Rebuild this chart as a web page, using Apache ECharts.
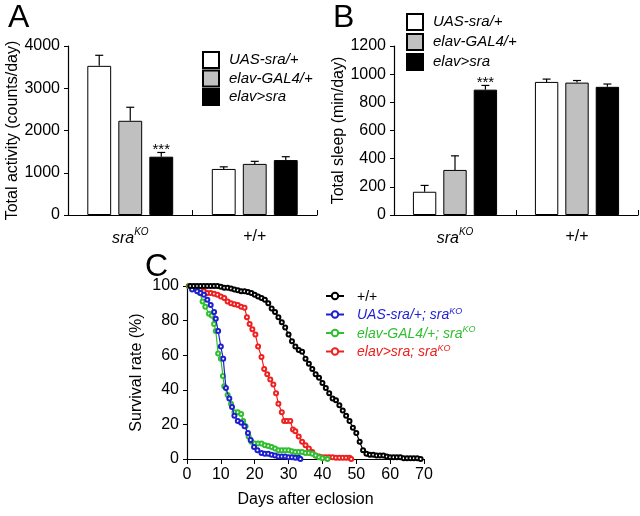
<!DOCTYPE html>
<html>
<head>
<meta charset="utf-8">
<script src="https://cdn.jsdelivr.net/npm/echarts@6/dist/echarts.min.js"></script>
<style>
  html, body { margin: 0; padding: 0; background: #fff; }
  #main { width: 640px; height: 516px; }
</style>
</head>
<body>
<div id="main"></div>
<script>
// 分组和基因型
var groups = ['sraKO', '+/+'];
var genotypes = ['UAS-sra/+', 'elav-GAL4/+', 'elav>sra'];
var barColors = ['#ffffff', '#c0c0c0', '#000000'];

// A: total activity (counts/day), one row per genotype, one value per group
var activityMean = [[3530, 1090], [2230, 1210], [1380, 1300]];
var activitySem = [[250, 50], [320, 60], [100, 80]];
// B: total sleep (min/day)
var sleepMean = [[165, 945], [320, 940], [890, 910]];
var sleepSem = [[45, 20], [100, 15], [30, 20]];
// *** marks, per genotype per group
var sigMarks = [['', ''], ['', ''], ['***', '']];

// C: survival curves, [day, percent]
var survNames = ['+/+', 'UAS-sra/+; sraKO', 'elav-GAL4/+; sraKO', 'elav>sra; sraKO'];
var survColors = ['#000000', '#1f1fd0', '#2fbf2f', '#ee2020'];
var survWT = [[1,100],[2,100],[3,100],[4,100],[5,100],[6,100],[7,100],[8,100],[9,100],[10,99.5],[11,99],[12,99],[13,98.5],[14,98],[15,97.5],[16,97],[17,97],[18,96.5],[19,96],[20,95],[21,94],[22,93],[23,92],[24,90],[25,87],[26,85],[27,82],[28,79],[29,76],[30,72],[31,68],[32,65],[33,63],[34,62],[35,58],[36,55],[37,52],[38,49],[39,47],[40,44],[41,41],[42,38],[43,35],[44,34],[45,31],[46,28],[47,25],[48,22],[49,18],[50,15],[51,10],[52,5],[53,3],[54,2.5],[55,2.5],[56,2],[57,2],[58,2],[59,1.5],[60,1],[61,1],[62,1],[63,1],[64,0.5],[65,0.5],[66,0.5],[67,0.5],[68,0.5],[69,0]];
var survUAS = [[1.5,98],[3,97],[4,96],[5,95],[6,92],[7,89],[8,85],[8.5,81],[9.2,74],[10,65],[10.7,58],[11.5,41],[12.5,35],[13.3,30],[14,25],[15,22],[16,21],[17,19],[18,15],[18.8,11],[19.8,7],[20.8,5],[22,3.5],[23,3],[24,3],[25,2.5],[26,2],[27,1.5],[28,1.5],[29,1.5],[30,1],[31,1],[32,0.7],[33,0.7],[33.5,0]];
var survGAL4 = [[0.7,100],[2,99],[3,98],[3.8,96],[4.6,91],[5.4,88],[6.5,84],[7.3,83],[8,78],[8.5,74],[9.2,61],[10,58],[10.6,48],[11,42],[12,37],[13,32],[14,27],[15,27],[16,26],[16.6,22],[17.3,19],[18.2,13],[19,10],[20,9],[21,9],[22,9],[23,8],[24,7.5],[25,7],[26,6],[27,5],[28,5],[29,5],[30,5],[31,4.5],[32,4],[33,4],[34,4],[35,3.5],[36,3.5],[37,3],[38,2],[39,1],[40,0.5],[41.5,0]];
var survRescue = [[0.5,100],[1.5,99],[3,98],[4,97.5],[5,97],[6,96],[7,96],[8,95.5],[9,95],[10,94],[11,93],[12,91],[13,90],[14,89.5],[15,89],[16,88],[17,87.5],[17.7,82],[18.5,78],[19.3,75],[20.2,72],[21,65],[22,59],[22.8,52],[23.7,49],[24.6,46],[25.5,43],[26.3,38],[27,32],[28,27],[28.7,22],[29.5,22],[30.5,22],[31.3,17],[32,16],[33,13],[34,10],[35,8],[36,6],[37,4],[38,2],[39,1.5],[40,1],[41,1],[42,1],[43,1],[44,0.7],[45,0.7],[46,0.7],[47,0.7],[48,0.7],[48.5,0]];
var survData = [survWT, survUAS, survGAL4, survRescue];

var FONT = 'Liberation Sans, Arial, sans-serif';

// 误差线 (only upward) + significance marks
function errRender(pos, marks) {
    return function (params, api) {
        var cat = api.value(0);
        var mean = api.value(1);
        var top = mean + api.value(2);
        var base = api.coord([cat, mean]);
        var tip = api.coord([cat, top]);
        var band = api.size([1, 0])[0];
        var bw = band * 0.69 / 3.6;
        var x = base[0] + (pos - 1) * bw * 1.3;
        var lineStyle = { stroke: '#000', lineWidth: 1.2 };
        var children = [
            { type: 'line', shape: { x1: x, y1: base[1], x2: x, y2: tip[1] }, style: lineStyle },
            { type: 'line', shape: { x1: x - 4, y1: tip[1], x2: x + 4, y2: tip[1] }, style: lineStyle }
        ];
        var m = marks[params.dataIndex];
        if (m) {
            children.push({
                type: 'text',
                style: { text: m, x: x, y: tip[1] + 5, align: 'center', verticalAlign: 'bottom',
                         font: '15px ' + FONT, fill: '#000' }
            });
        }
        return { type: 'group', children: children };
    };
}

function catLabel(v) {
    return v === 'sraKO' ? '{i|sra}{s|KO}' : '{n|+/+}';
}
var catRich = {
    i: { fontStyle: 'italic', fontSize: 16, fontFamily: FONT, color: '#000', lineHeight: 20, verticalAlign: 'bottom' },
    s: { fontStyle: 'italic', fontSize: 10, fontFamily: FONT, color: '#000', lineHeight: 20, verticalAlign: 'top' },
    n: { fontSize: 16, fontFamily: FONT, color: '#000', lineHeight: 20 }
};

var axisLineBlack = { show: true, lineStyle: { color: '#000', width: 1.2 } };
var tickText = { color: '#000', fontSize: 16, fontFamily: FONT, formatter: function (v) { return String(v); } };
var nameText = { color: '#000', fontSize: 16, fontFamily: FONT };

var xAxes = [];
var yAxes = [];
var grids = [
    { left: 68, right: 323, top: 46, bottom: 301 },
    { left: 394, right: 2, top: 46, bottom: 301 },
    { left: 187, right: 216, top: 286, bottom: 57 }
];
[0, 1].forEach(function (g) {
    xAxes.push({
        type: 'category', gridIndex: g, data: groups,
        axisLine: axisLineBlack,
        axisTick: { show: true, inside: true, length: 5, lineStyle: { color: '#000' } },
        axisLabel: { formatter: catLabel, rich: catRich, margin: 12 }
    });
});
xAxes.push({
    type: 'value', gridIndex: 2, min: 0, max: 70, interval: 10,
    name: 'Days after eclosion', nameLocation: 'middle', nameGap: 33,
    nameTextStyle: nameText,
    axisLine: axisLineBlack,
    axisTick: { show: true, length: 5, lineStyle: { color: '#000' } },
    axisLabel: tickText,
    splitLine: { show: false }
});
yAxes.push({
    type: 'value', gridIndex: 0, min: 0, max: 4000, interval: 1000,
    name: 'Total activity (counts/day)', nameLocation: 'middle', nameGap: 38,
    nameTextStyle: nameText,
    axisLine: axisLineBlack,
    axisTick: { show: true, length: 4, lineStyle: { color: '#000' } },
    axisLabel: tickText, splitLine: { show: false }
});
yAxes.push({
    type: 'value', gridIndex: 1, min: 0, max: 1200, interval: 200,
    name: 'Total sleep (min/day)', nameLocation: 'middle', nameGap: 36,
    nameTextStyle: nameText,
    axisLine: axisLineBlack,
    axisTick: { show: true, length: 4, lineStyle: { color: '#000' } },
    axisLabel: tickText, splitLine: { show: false }
});
yAxes.push({
    type: 'value', gridIndex: 2, min: 0, max: 100, interval: 20,
    name: 'Survival rate (%)', nameLocation: 'middle', nameGap: 42,
    nameTextStyle: nameText,
    axisLine: axisLineBlack,
    axisTick: { show: true, length: 4, lineStyle: { color: '#000' } },
    axisLabel: tickText, splitLine: { show: false }
});

var series = [];
// 柱子和误差线
[[activityMean, activitySem, 0], [sleepMean, sleepSem, 1]].forEach(function (set) {
    var means = set[0], sems = set[1], g = set[2];
    genotypes.forEach(function (name, k) {
        series.push({
            name: name, type: 'bar', xAxisIndex: g, yAxisIndex: g,
            barGap: '30%', barCategoryGap: '31%',
            itemStyle: { color: barColors[k], borderColor: '#000', borderWidth: 1 },
            data: means[k]
        });
    });
    genotypes.forEach(function (name, k) {
        series.push({
            type: 'custom', xAxisIndex: g, yAxisIndex: g, z: 5,
            renderItem: errRender(k, sigMarks[k]),
            encode: { x: 0, y: 1 },
            data: means[k].map(function (v, j) { return [j, v, sems[k][j]]; })
        });
    });
});
survNames.forEach(function (name, k) {
    series.push({
        name: name, type: 'line', xAxisIndex: 2, yAxisIndex: 2,
        data: survData[k], symbol: 'emptyCircle', symbolSize: 4, showSymbol: true,
        lineStyle: { color: survColors[k], width: 1.2 },
        itemStyle: { color: survColors[k], borderWidth: 1 },
        z: 4 - k
    });
});

var legRich = {};
survColors.forEach(function (c, k) {
    legRich['t' + k] = { color: c, fontSize: 14, fontStyle: k ? 'italic' : 'normal', fontFamily: FONT, lineHeight: 16, verticalAlign: 'bottom' };
    legRich['s' + k] = { color: c, fontSize: 9, fontStyle: 'italic', fontFamily: FONT, lineHeight: 16, verticalAlign: 'top' };
});

var barLegend = function (left, top, gap) {
    return {
        left: left, top: top, orient: 'vertical', data: genotypes, padding: 0,
        icon: 'rect', itemWidth: 16, itemHeight: 16, itemGap: gap,
        selectedMode: false,
        textStyle: { color: '#000', fontSize: 15, lineHeight: 16, fontStyle: 'italic', fontFamily: FONT, padding: [0, 0, 0, 5] }
    };
};

var option = {
    animation: false,
    backgroundColor: '#fff',
    title: [
        { text: 'A', left: 3, top: -3, textStyle: { fontSize: 32, fontWeight: 'normal', color: '#000', fontFamily: FONT } },
        { text: 'B', left: 328, top: -3, textStyle: { fontSize: 32, fontWeight: 'normal', color: '#000', fontFamily: FONT } },
        { text: 'C', left: 140, top: 246, textStyle: { fontSize: 32, fontWeight: 'normal', color: '#000', fontFamily: FONT } }
    ],
    legend: [
        barLegend(202, 51, 0.5),
        barLegend(406, 13, 2),
        {
            left: 325, top: 290, orient: 'vertical', data: survNames, padding: 0,
            itemWidth: 18, itemHeight: 8, itemGap: 2.5, selectedMode: false,
            formatter: function (name) {
                var k = survNames.indexOf(name);
                if (k === 0) return '{t0|+/+}';
                return '{t' + k + '|' + name.replace('KO', '') + '}{s' + k + '|KO}';
            },
            textStyle: { rich: legRich, padding: [0, 0, 0, 8] }
        }
    ],
    grid: grids,
    xAxis: xAxes,
    yAxis: yAxes,
    series: series
};

var myChart = echarts.init(document.getElementById('main'));
myChart.setOption(option);
</script>
</body>
</html>
